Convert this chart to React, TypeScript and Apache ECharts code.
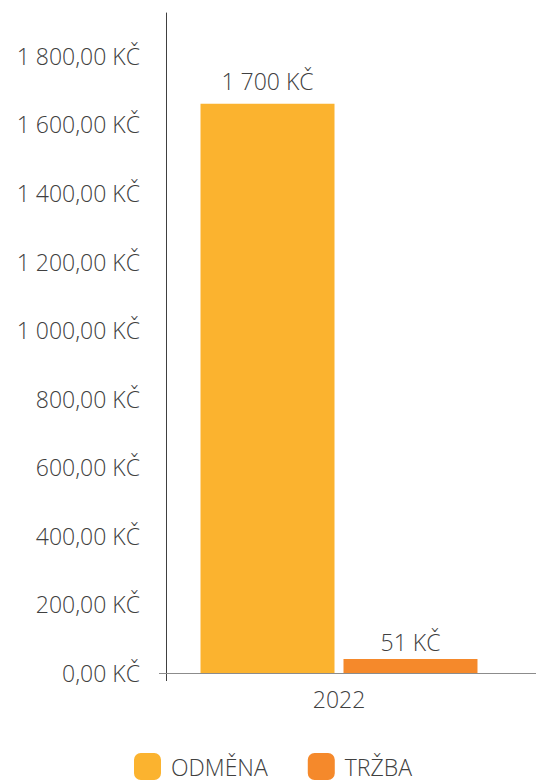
import React, { useEffect, useRef } from "react";
import * as echarts from "echarts";

const categories = ["2022"];
const seriesNames = ["ODMĚNA", "TRŽBA"];
const odmenaValues = [1660];
const trzbaValues = [41];
const odmenaLabels = ["1 700 KČ"];
const trzbaLabels = ["51 KČ"];
const yTickStep = 200;

const W = 536;
const H = 780;
const GRID = { left: 166, right: 24, top: 13, bottom: 107 };
const FONT = '"Open Sans", Lato, "DejaVu Sans", sans-serif';
const TEXT = "#404040";
const FS = 23;

function fmtAxis(v: number): string {
  if (v % yTickStep !== 0) return "";
  const s = Math.round(v).toString().replace(/\B(?=(\d{3})+(?!\d))/g, " ");
  return `${s},00 KČ`;
}

export default function App() {
  const ref = useRef<HTMLDivElement>(null);
  useEffect(() => {
    if (!ref.current) return;
    const chart = echarts.init(ref.current, null, { renderer: "svg" });
    const axisY = H - GRID.bottom;
    const option: any = {
      animation: false,
      textStyle: { fontFamily: FONT, fontWeight: 300 },
      grid: GRID,
      xAxis: {
        type: "category",
        data: categories,
        axisLine: { show: true, lineStyle: { color: "#8c8c8c", width: 1 } },
        axisTick: { show: false },
        axisLabel: { color: TEXT, fontSize: FS, margin: 14, fontFamily: FONT, fontWeight: 300 },
      },
      yAxis: {
        type: "value",
        min: 0,
        max: 1925,
        interval: yTickStep,
        splitLine: { show: false },
        axisLine: { show: true, lineStyle: { color: "#404040", width: 1 } },
        axisTick: { show: false },
        axisLabel: {
          formatter: fmtAxis,
          color: TEXT,
          fontSize: FS,
          margin: 26,
          fontFamily: FONT,
          fontWeight: 300,
          showMaxLabel: false,
        },
      },
      legend: {
        left: 129,
        top: 748,
        itemWidth: 27,
        itemHeight: 27,
        itemGap: 40,
        icon: "roundRect",
        textStyle: { fontSize: FS, color: TEXT, fontFamily: FONT, fontWeight: 300, padding: [0, 0, 0, 5] },
        data: seriesNames,
      },
      series: [
        {
          type: "bar",
          name: seriesNames[0],
          data: odmenaValues,
          barWidth: 134,
          barGap: "6.7%",
          itemStyle: { color: "#FBB32F" },
          label: {
            show: true,
            position: "top",
            distance: 11,
            formatter: (p: any) => odmenaLabels[p.dataIndex],
            fontSize: FS,
            color: TEXT,
            fontFamily: FONT,
            fontWeight: 300,
          },
        },
        {
          type: "bar",
          name: seriesNames[1],
          data: trzbaValues,
          barWidth: 134,
          barGap: "6.7%",
          itemStyle: { color: "#F5892B" },
          label: {
            show: true,
            position: "top",
            distance: 5,
            formatter: (p: any) => trzbaLabels[p.dataIndex],
            fontSize: FS,
            color: TEXT,
            fontFamily: FONT,
            fontWeight: 300,
          },
        },
      ],
      graphic: [
        {
          type: "line",
          shape: { x1: GRID.left + 0.5, y1: axisY, x2: GRID.left + 0.5, y2: axisY + 8 },
          style: { stroke: "#404040", lineWidth: 1 },
        },
        {
          type: "line",
          shape: { x1: GRID.left - 7, y1: axisY + 0.5, x2: GRID.left, y2: axisY + 0.5 },
          style: { stroke: "#8c8c8c", lineWidth: 1 },
        },
        {
          type: "line",
          shape: { x1: W - GRID.right, y1: axisY + 0.5, x2: W, y2: axisY + 0.5 },
          style: { stroke: "#8c8c8c", lineWidth: 1 },
        },
      ],
    };
    chart.setOption(option);
    return () => chart.dispose();
  }, []);
  return (
    <div
      ref={ref}
      style={{ position: "fixed", left: 0, top: 0, width: W, height: H, background: "#fff" }}
    />
  );
}
